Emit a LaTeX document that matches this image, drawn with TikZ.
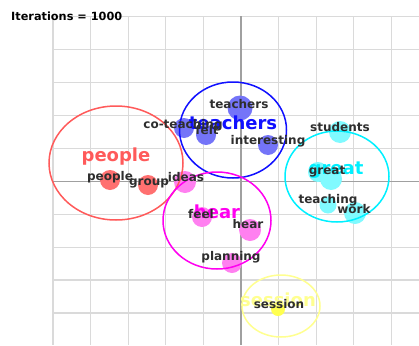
\documentclass[tikz,border=0pt]{standalone}
\usepackage{fontspec}
\setmainfont{DejaVu Sans}
\definecolor{gridc}{HTML}{DADADA}
\definecolor{axisc}{HTML}{A0A0A0}
\definecolor{labc}{HTML}{2E2E2E}
\definecolor{redc}{HTML}{FF5A5A}
\definecolor{redd}{HTML}{FF7070}
\definecolor{bluec}{HTML}{1010FF}
\definecolor{blued}{HTML}{7474F8}
\definecolor{cyanc}{HTML}{00F0FF}
\definecolor{cyand}{HTML}{80FAFF}
\definecolor{magc}{HTML}{FF00F0}
\definecolor{magd}{HTML}{FF80F0}
\definecolor{yelc}{HTML}{FFFF90}
\definecolor{yeld}{HTML}{FFFF50}
\tikzset{
  gridline/.style={draw=gridc, line width=1.3pt},
  axisline/.style={draw=axisc, line width=1.2pt},
  clus/.style={line width=1.5pt, fill=none},
  biglab/.style={font=\bfseries\fontsize{18}{18}\selectfont, inner sep=0pt},
  smalllab/.style={font=\bfseries\fontsize{12}{12}\selectfont, text=labc, inner sep=0pt},
  dot/.style={circle, inner sep=0pt, minimum size=#1},
  dot/.default=20pt,
}
\begin{document}
\begin{tikzpicture}[x=1pt,y=-1pt]
\useasboundingbox (0,0) rectangle (419,345);
\fill[white] (0,0) rectangle (419,345);
% grid
\foreach \k in {0,...,9} {
  \draw[gridline] ({53+37.6*\k},16.5) -- ({53+37.6*\k},345);
  \draw[gridline] (53,{16.5+32.95*\k}) -- (419,{16.5+32.95*\k});
}
\draw[axisline] (241,16.5) -- (241,345);
\draw[axisline] (53,181.2) -- (419,181.2);
% dots
\node[dot=25pt, fill=blued] (dteachers) at (240,108) {};
\node[dot=20pt, fill=blued] (dcoteaching) at (184,128) {};
\node[dot=20pt, fill=blued] (dfelt) at (206,135) {};
\node[dot=20pt, fill=blued] (dinteresting) at (268,145) {};
\node[dot=20pt, fill=redd] (dpeople) at (110,180) {};
\node[dot=20pt, fill=redd] (dgroup) at (148,185) {};
\node[dot=22pt, fill=magd] (dideas) at (185,182) {};
\node[dot=20pt, fill=magd] (dfeel) at (202,217) {};
\node[dot=22pt, fill=magd] (dhear) at (250,230) {};
\node[dot=20pt, fill=magd] (dplanning) at (232,263) {};
\node[dot=22pt, fill=cyand] (dstudents) at (340,132) {};
\node[dot=20pt, fill=cyand] (dgreata) at (318,172) {};
\node[dot=22pt, fill=cyand] (dgreatb) at (331,179) {};
\node[dot=17pt, fill=cyand] (dteaching) at (328,205) {};
\node[dot=22pt, fill=cyand] (dwork) at (355,213) {};
\node[dot=14pt, fill=yeld] (dsession) at (278,309) {};
% cluster outlines
\draw[clus, draw=redc] (116,163) ellipse [x radius=67, y radius=57];
\draw[clus, draw=bluec] (233,130) ellipse [x radius=53.5, y radius=48];
\draw[clus, draw=cyanc] (337,176.5) ellipse [x radius=52, y radius=45.5];
\draw[clus, draw=magc] (217,220.5) ellipse [x radius=54, y radius=48.5];
\draw[clus, draw=yelc] (281,306) ellipse [x radius=39, y radius=31];
% cluster titles
\node[biglab, text=redc] (tpeople) at (116,157) {people};
\node[biglab, text=bluec] (tteachers) at (233,123) {teachers};
\node[biglab, text=cyanc] (tgreat) at (336,170) {great};
\node[biglab, text=magc] (thear) at (217,212) {hear};
\node[biglab, text=yelc] (tsession) at (278,300) {session};
% word labels
\node[smalllab] (lteachers) at (239,104) {teachers};
\node[smalllab] (lcoteaching) at (183,125) {co-teaching};
\node[smalllab] (lfelt) at (207,130) {felt};
\node[smalllab] (linteresting) at (268,141) {interesting};
\node[smalllab] (lpeople) at (110,177) {people};
\node[smalllab] (lgroup) at (149,183) {group};
\node[smalllab] (lideas) at (186,177) {ideas};
\node[smalllab] (lfeel) at (201,214) {feel};
\node[smalllab] (lhear) at (248,224) {hear};
\node[smalllab] (lplanning) at (231,257) {planning};
\node[smalllab] (lstudents) at (340,127) {students};
\node[smalllab] (lgreat) at (327,172) {great};
\node[smalllab] (lteaching) at (328,200) {teaching};
\node[smalllab] (lwork) at (354,209) {work};
\node[smalllab] (lsession) at (279,304) {session};
% title
\node[font=\bfseries\fontsize{11.3}{11.3}\selectfont, text=black, inner sep=0pt, anchor=west] (title) at (11,16) {Iterations = 1000};
\end{tikzpicture}
\end{document}
